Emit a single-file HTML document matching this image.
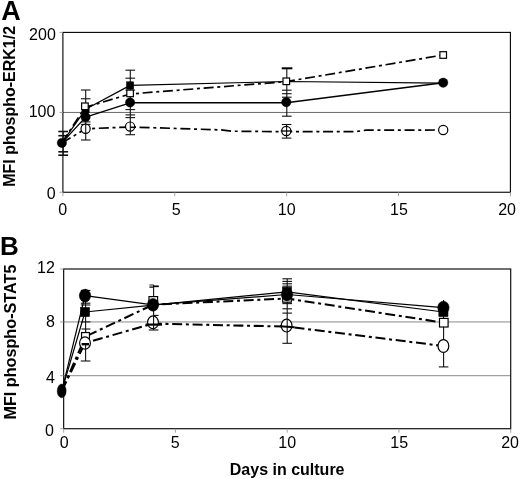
<!DOCTYPE html>
<html><head><meta charset="utf-8"><title>Figure</title>
<style>
html,body{margin:0;padding:0;background:#fff;}
body{width:520px;height:479px;overflow:hidden;font-family:"Liberation Sans",sans-serif;}
svg{display:block;will-change:transform;}
</style></head><body>
<svg width="520" height="479" viewBox="0 0 520 479">
<rect width="520" height="479" fill="#fff"/>
<line x1="62.9" y1="112.45" x2="510.4" y2="112.45" stroke="#6a6a6a" stroke-width="1" />
<rect x="62.9" y="32.4" width="447.5" height="159.85" fill="none" stroke="#000" stroke-width="1.1"/>
<line x1="62.9" y1="192.25" x2="62.9" y2="196.25" stroke="#9a9a9a" stroke-width="0.9" />
<line x1="174.78" y1="192.25" x2="174.78" y2="196.25" stroke="#9a9a9a" stroke-width="0.9" />
<line x1="286.65" y1="192.25" x2="286.65" y2="196.25" stroke="#9a9a9a" stroke-width="0.9" />
<line x1="398.52" y1="192.25" x2="398.52" y2="196.25" stroke="#9a9a9a" stroke-width="0.9" />
<line x1="510.4" y1="192.25" x2="510.4" y2="196.25" stroke="#9a9a9a" stroke-width="0.9" />
<line x1="59.4" y1="32.4" x2="62.9" y2="32.4" stroke="#9a9a9a" stroke-width="0.9" />
<line x1="59.4" y1="112.45" x2="62.9" y2="112.45" stroke="#9a9a9a" stroke-width="0.9" />
<line x1="59.4" y1="192.25" x2="62.9" y2="192.25" stroke="#9a9a9a" stroke-width="0.9" />
<line x1="63.2" y1="131.5" x2="63.2" y2="155.2" stroke="#111" stroke-width="1.1" />
<line x1="58.300000000000004" y1="131.5" x2="68.10000000000001" y2="131.5" stroke="#111" stroke-width="1.6" />
<line x1="58.300000000000004" y1="135.7" x2="68.10000000000001" y2="135.7" stroke="#111" stroke-width="1.6" />
<line x1="58.300000000000004" y1="151.8" x2="68.10000000000001" y2="151.8" stroke="#111" stroke-width="1.6" />
<line x1="58.300000000000004" y1="155.2" x2="68.10000000000001" y2="155.2" stroke="#111" stroke-width="1.6" />
<line x1="85.7" y1="90" x2="85.7" y2="140" stroke="#111" stroke-width="1.1" />
<line x1="80.9" y1="90" x2="90.5" y2="90" stroke="#111" stroke-width="1.1" />
<line x1="80.9" y1="98.75" x2="90.5" y2="98.75" stroke="#111" stroke-width="1.1" />
<line x1="80.9" y1="121.9" x2="90.5" y2="121.9" stroke="#111" stroke-width="1.1" />
<line x1="80.9" y1="124.4" x2="90.5" y2="124.4" stroke="#111" stroke-width="1.1" />
<line x1="80.9" y1="140" x2="90.5" y2="140" stroke="#111" stroke-width="1.1" />
<line x1="130.3" y1="70.2" x2="130.3" y2="134.7" stroke="#111" stroke-width="1.1" />
<line x1="125.50000000000001" y1="70.2" x2="135.10000000000002" y2="70.2" stroke="#111" stroke-width="1.1" />
<line x1="125.50000000000001" y1="78.2" x2="135.10000000000002" y2="78.2" stroke="#111" stroke-width="1.1" />
<line x1="125.50000000000001" y1="90.1" x2="135.10000000000002" y2="90.1" stroke="#111" stroke-width="1.1" />
<line x1="125.50000000000001" y1="109.6" x2="135.10000000000002" y2="109.6" stroke="#111" stroke-width="1.1" />
<line x1="125.50000000000001" y1="114.9" x2="135.10000000000002" y2="114.9" stroke="#111" stroke-width="1.1" />
<line x1="125.50000000000001" y1="117.6" x2="135.10000000000002" y2="117.6" stroke="#111" stroke-width="1.1" />
<line x1="125.50000000000001" y1="134.7" x2="135.10000000000002" y2="134.7" stroke="#111" stroke-width="1.1" />
<line x1="286.8" y1="68.4" x2="286.8" y2="116.2" stroke="#111" stroke-width="1.1" />
<line x1="282.0" y1="90.2" x2="291.6" y2="90.2" stroke="#111" stroke-width="1.1" />
<line x1="282.0" y1="93.7" x2="291.6" y2="93.7" stroke="#111" stroke-width="1.1" />
<line x1="282.0" y1="97.2" x2="291.6" y2="97.2" stroke="#111" stroke-width="1.1" />
<line x1="282.0" y1="116.2" x2="291.6" y2="116.2" stroke="#111" stroke-width="1.1" />
<line x1="281.7" y1="68.3" x2="292.4" y2="68.3" stroke="#000" stroke-width="2" />
<line x1="286.6" y1="124.5" x2="286.6" y2="138.1" stroke="#111" stroke-width="1.1" />
<line x1="281.8" y1="124.5" x2="291.40000000000003" y2="124.5" stroke="#111" stroke-width="1.1" />
<line x1="281.8" y1="138.1" x2="291.40000000000003" y2="138.1" stroke="#111" stroke-width="1.1" />
<polyline points="61.9,142.9 85.6,128.8 130.1,127.0 221,129.9 232,131.2 286.3,131.7 355,131.7 366,130.2 443.2,130" fill="none" stroke="#000" stroke-width="1.7" stroke-dasharray="10 3.7 3 3.7" stroke-linejoin="round"/>
<polyline points="61.9,142.9 84.9,107.4 130.1,94.0 286.3,81.6 443.2,55" fill="none" stroke="#000" stroke-width="1.7" stroke-dasharray="10 3.7 3 3.7" stroke-linejoin="round"/>
<polyline points="61.9,142.9 85.6,109.3 130.1,85.4 286.3,81.5 443.2,83.1" fill="none" stroke="#000" stroke-width="1.2" stroke-linejoin="round"/>
<polyline points="61.9,142.9 85.6,117.1 130.1,102.8 286.3,102.7 443.2,82.7" fill="none" stroke="#000" stroke-width="1.4" stroke-linejoin="round"/>
<circle cx="85.6" cy="128.8" r="4.6" fill="#fff" stroke="#000" stroke-width="1.2"/>
<circle cx="130.1" cy="126.6" r="4.6" fill="#fff" stroke="#000" stroke-width="1.2"/>
<circle cx="286.3" cy="131" r="4.6" fill="#fff" stroke="#000" stroke-width="1.2"/>
<circle cx="443.2" cy="130" r="4.6" fill="#fff" stroke="#000" stroke-width="1.2"/>
<line x1="85.7" y1="124.20000000000002" x2="85.7" y2="133.4" stroke="#111" stroke-width="1.1" />
<line x1="130.3" y1="122.0" x2="130.3" y2="131.2" stroke="#111" stroke-width="1.1" />
<line x1="286.6" y1="126.4" x2="286.6" y2="135.6" stroke="#111" stroke-width="1.1" />
<line x1="130.3" y1="127.3" x2="136" y2="127.3" stroke="#000" stroke-width="1.5" />
<line x1="280.8" y1="131" x2="291.8" y2="131" stroke="#000" stroke-width="1.3" />
<rect x="82.0" y="105.7" width="7.2" height="7.2" fill="#000" stroke="#000" stroke-width="0.5"/>
<rect x="126.5" y="81.80000000000001" width="7.2" height="7.2" fill="#000" stroke="#000" stroke-width="0.5"/>
<circle cx="61.9" cy="142.9" r="4.75" fill="#000" stroke="#000" stroke-width="0.3"/>
<circle cx="85.6" cy="117.1" r="4.75" fill="#000" stroke="#000" stroke-width="0.3"/>
<circle cx="130.1" cy="102.5" r="4.75" fill="#000" stroke="#000" stroke-width="0.3"/>
<circle cx="286.3" cy="102.2" r="4.75" fill="#000" stroke="#000" stroke-width="0.3"/>
<circle cx="443.2" cy="82.7" r="4.75" fill="#000" stroke="#000" stroke-width="0.3"/>
<rect x="81.60000000000001" y="103.0" width="6.6" height="6.6" fill="#fff" stroke="#000" stroke-width="1.2"/>
<rect x="126.8" y="90.10000000000001" width="6.6" height="6.6" fill="#fff" stroke="#000" stroke-width="1.2"/>
<rect x="283.0" y="78.0" width="6.6" height="6.6" fill="#fff" stroke="#000" stroke-width="1.2"/>
<rect x="439.9" y="51.7" width="6.6" height="6.6" fill="#fff" stroke="#000" stroke-width="1.2"/>
<line x1="63.65" y1="321.95" x2="510.7" y2="321.95" stroke="#8a8a8a" stroke-width="1" />
<line x1="63.65" y1="375.7" x2="510.7" y2="375.7" stroke="#8a8a8a" stroke-width="1" />
<rect x="63.65" y="269.0" width="447.05" height="159.7" fill="none" stroke="#111" stroke-width="1.2"/>
<line x1="63.65" y1="428.7" x2="63.65" y2="432.7" stroke="#9a9a9a" stroke-width="0.9" />
<line x1="175.41" y1="428.7" x2="175.41" y2="432.7" stroke="#9a9a9a" stroke-width="0.9" />
<line x1="287.17" y1="428.7" x2="287.17" y2="432.7" stroke="#9a9a9a" stroke-width="0.9" />
<line x1="398.94" y1="428.7" x2="398.94" y2="432.7" stroke="#9a9a9a" stroke-width="0.9" />
<line x1="510.7" y1="428.7" x2="510.7" y2="432.7" stroke="#9a9a9a" stroke-width="0.9" />
<line x1="60.15" y1="269.0" x2="63.65" y2="269.0" stroke="#9a9a9a" stroke-width="0.9" />
<line x1="60.15" y1="321.95" x2="63.65" y2="321.95" stroke="#9a9a9a" stroke-width="0.9" />
<line x1="60.15" y1="375.7" x2="63.65" y2="375.7" stroke="#9a9a9a" stroke-width="0.9" />
<line x1="60.15" y1="428.7" x2="63.65" y2="428.7" stroke="#9a9a9a" stroke-width="0.9" />
<line x1="85.6" y1="289" x2="85.6" y2="361" stroke="#111" stroke-width="1.1" />
<line x1="80.8" y1="290.4" x2="90.39999999999999" y2="290.4" stroke="#111" stroke-width="1.1" />
<line x1="80.8" y1="303.2" x2="90.39999999999999" y2="303.2" stroke="#111" stroke-width="1.1" />
<line x1="80.8" y1="305" x2="90.39999999999999" y2="305" stroke="#111" stroke-width="1.1" />
<line x1="80.8" y1="321.9" x2="90.39999999999999" y2="321.9" stroke="#111" stroke-width="1.1" />
<line x1="80.8" y1="361" x2="90.39999999999999" y2="361" stroke="#111" stroke-width="1.1" />
<line x1="153.6" y1="285" x2="153.6" y2="330" stroke="#111" stroke-width="1.1" />
<line x1="148.79999999999998" y1="330" x2="158.4" y2="330" stroke="#111" stroke-width="1.1" />
<line x1="149.4" y1="284.9" x2="153.8" y2="284.9" stroke="#111" stroke-width="0.8" />
<line x1="149.4" y1="286.2" x2="153.8" y2="286.2" stroke="#111" stroke-width="0.8" />
<line x1="149.4" y1="287.5" x2="153.8" y2="287.5" stroke="#111" stroke-width="0.8" />
<line x1="153.4" y1="286.3" x2="158.8" y2="286.3" stroke="#000" stroke-width="1.7" />
<line x1="153.6" y1="315.4" x2="158.6" y2="315.4" stroke="#111" stroke-width="1.1" />
<line x1="287.2" y1="278.8" x2="287.2" y2="343.3" stroke="#111" stroke-width="1.1" />
<line x1="282.4" y1="278.8" x2="292.0" y2="278.8" stroke="#111" stroke-width="1.1" />
<line x1="282.4" y1="281.4" x2="292.0" y2="281.4" stroke="#111" stroke-width="1.1" />
<line x1="282.4" y1="283.8" x2="292.0" y2="283.8" stroke="#111" stroke-width="1.1" />
<line x1="282.4" y1="286.2" x2="292.0" y2="286.2" stroke="#111" stroke-width="1.1" />
<line x1="282.4" y1="303.6" x2="292.0" y2="303.6" stroke="#111" stroke-width="1.1" />
<line x1="282.4" y1="308.8" x2="292.0" y2="308.8" stroke="#111" stroke-width="1.1" />
<line x1="282.4" y1="313.1" x2="292.0" y2="313.1" stroke="#111" stroke-width="1.1" />
<line x1="282.4" y1="343.3" x2="292.0" y2="343.3" stroke="#111" stroke-width="1.1" />
<line x1="443.6" y1="300" x2="443.6" y2="366.9" stroke="#111" stroke-width="1.1" />
<line x1="438.8" y1="366.9" x2="448.40000000000003" y2="366.9" stroke="#111" stroke-width="1.1" />
<polyline points="61.9,390.6 85.5,336.5 153.3,304.6 287.0,298.5 443.8,322.7" fill="none" stroke="#000" stroke-width="2.05" stroke-dasharray="10 3.7 3 3.7" stroke-linejoin="round"/>
<polyline points="61.9,390.6 85.0,343 153.0,323.6 286.6,326.6 443.4,346" fill="none" stroke="#000" stroke-width="2.05" stroke-dasharray="10 3.7 3 3.7" stroke-linejoin="round"/>
<polyline points="61.9,390.6 85.0,312 153.0,305.2 287.0,291.8 443.4,312" fill="none" stroke="#000" stroke-width="1.2" stroke-linejoin="round"/>
<polyline points="61.9,390.6 85.0,295.6 153.0,304.8 287.0,294.5 443.4,307.6" fill="none" stroke="#000" stroke-width="1.2" stroke-linejoin="round"/>
<rect x="81.55" y="332.55" width="7.9" height="7.9" fill="#fff" stroke="#000" stroke-width="1.2"/>
<line x1="85.6" y1="329" x2="85.6" y2="332.6" stroke="#111" stroke-width="1.1" />
<line x1="81.4" y1="329" x2="90.4" y2="329" stroke="#111" stroke-width="1.1" />
<ellipse cx="85.0" cy="343" rx="5.4" ry="6.2" fill="#fff" stroke="#000" stroke-width="1.2"/>
<line x1="85.6" y1="344" x2="85.6" y2="349.2" stroke="#111" stroke-width="1.1" />
<line x1="81.6" y1="344.2" x2="89" y2="344.2" stroke="#000" stroke-width="2.4" />
<ellipse cx="153.0" cy="322.3" rx="5.4" ry="6.4" fill="#fff" stroke="#000" stroke-width="1.2"/>
<ellipse cx="286.6" cy="325.6" rx="5.4" ry="6.4" fill="#fff" stroke="#000" stroke-width="1.2"/>
<ellipse cx="443.4" cy="346" rx="5.4" ry="6.4" fill="#fff" stroke="#000" stroke-width="1.2"/>
<line x1="153.6" y1="315.90000000000003" x2="153.6" y2="328.7" stroke="#111" stroke-width="1.1" />
<line x1="287.2" y1="319.20000000000005" x2="287.2" y2="332.0" stroke="#111" stroke-width="1.1" />
<line x1="145.7" y1="324.6" x2="162" y2="324.6" stroke="#000" stroke-width="2.2" />
<line x1="280" y1="326.3" x2="294.5" y2="327.3" stroke="#000" stroke-width="2.0" />
<rect x="149.0" y="296.59999999999997" width="8.6" height="8.6" fill="#fff" stroke="#000" stroke-width="1.2"/>
<rect x="282.7" y="293.59999999999997" width="8.6" height="8.6" fill="#fff" stroke="#000" stroke-width="1.2"/>
<rect x="439.5" y="318.4" width="8.6" height="8.6" fill="#fff" stroke="#000" stroke-width="1.2"/>
<rect x="80.4" y="307.4" width="9.2" height="9.2" fill="#000" stroke="#000" stroke-width="0.5"/>
<rect x="149.0" y="301.2" width="8.0" height="8.0" fill="#000" stroke="#000" stroke-width="0.5"/>
<rect x="282.4" y="287.2" width="9.2" height="9.2" fill="#000" stroke="#000" stroke-width="0.5"/>
<rect x="438.79999999999995" y="307.4" width="9.2" height="9.2" fill="#000" stroke="#000" stroke-width="0.5"/>
<ellipse cx="85.0" cy="295.6" rx="5.7" ry="6.4" fill="#000" stroke="#000" stroke-width="0.5"/>
<ellipse cx="153.0" cy="304.8" rx="5.7" ry="6.4" fill="#000" stroke="#000" stroke-width="0.5"/>
<ellipse cx="287.0" cy="294.5" rx="5.7" ry="6.4" fill="#000" stroke="#000" stroke-width="0.5"/>
<ellipse cx="443.4" cy="307.6" rx="5.7" ry="6.4" fill="#000" stroke="#000" stroke-width="0.5"/>
<ellipse cx="61.7" cy="390.9" rx="4.5" ry="6.9" fill="#000" stroke="#000" stroke-width="0.4"/>
<text x="1.3" y="19.6" font-family="Liberation Sans, sans-serif" font-size="27" font-weight="bold" text-anchor="start" fill="#000" >A</text>
<text x="-0.1" y="255.4" font-family="Liberation Sans, sans-serif" font-size="26" font-weight="bold" text-anchor="start" fill="#000" >B</text>
<text x="55.8" y="39.6" font-family="Liberation Sans, sans-serif" font-size="16" font-weight="normal" text-anchor="end" fill="#000" >200</text>
<text x="55.4" y="116.7" font-family="Liberation Sans, sans-serif" font-size="16" font-weight="normal" text-anchor="end" fill="#000" >100</text>
<text x="55.7" y="199" font-family="Liberation Sans, sans-serif" font-size="16" font-weight="normal" text-anchor="end" fill="#000" >0</text>
<text x="54.8" y="272.9" font-family="Liberation Sans, sans-serif" font-size="16" font-weight="normal" text-anchor="end" fill="#000" >12</text>
<text x="55" y="327.2" font-family="Liberation Sans, sans-serif" font-size="16" font-weight="normal" text-anchor="end" fill="#000" >8</text>
<text x="55" y="383" font-family="Liberation Sans, sans-serif" font-size="16" font-weight="normal" text-anchor="end" fill="#000" >4</text>
<text x="54.0" y="436" font-family="Liberation Sans, sans-serif" font-size="16" font-weight="normal" text-anchor="end" fill="#000" >0</text>
<text x="62.699999999999996" y="215.3" font-family="Liberation Sans, sans-serif" font-size="16" font-weight="normal" text-anchor="middle" fill="#000" >0</text>
<text x="176.28" y="215.3" font-family="Liberation Sans, sans-serif" font-size="16" font-weight="normal" text-anchor="middle" fill="#000" >5</text>
<text x="286.65" y="215.3" font-family="Liberation Sans, sans-serif" font-size="16" font-weight="normal" text-anchor="middle" fill="#000" >10</text>
<text x="399.02" y="215.3" font-family="Liberation Sans, sans-serif" font-size="16" font-weight="normal" text-anchor="middle" fill="#000" >15</text>
<text x="507.09999999999997" y="215.3" font-family="Liberation Sans, sans-serif" font-size="16" font-weight="normal" text-anchor="middle" fill="#000" >20</text>
<text x="64.15" y="448.2" font-family="Liberation Sans, sans-serif" font-size="16" font-weight="normal" text-anchor="middle" fill="#000" >0</text>
<text x="175.21" y="448.2" font-family="Liberation Sans, sans-serif" font-size="16" font-weight="normal" text-anchor="middle" fill="#000" >5</text>
<text x="287.17" y="448.2" font-family="Liberation Sans, sans-serif" font-size="16" font-weight="normal" text-anchor="middle" fill="#000" >10</text>
<text x="399.24" y="448.2" font-family="Liberation Sans, sans-serif" font-size="16" font-weight="normal" text-anchor="middle" fill="#000" >15</text>
<text x="510.09999999999997" y="448.2" font-family="Liberation Sans, sans-serif" font-size="16" font-weight="normal" text-anchor="middle" fill="#000" >20</text>
<text x="287.15" y="474.8" font-family="Liberation Sans, sans-serif" font-size="16" font-weight="bold" text-anchor="middle" fill="#000" >Days in culture</text>
<text transform="translate(14.6,106.35) rotate(-90)" font-family="Liberation Sans, sans-serif" font-size="16" font-weight="bold" text-anchor="middle" fill="#000">MFI phospho-ERK1/2</text>
<text transform="translate(15.8,342.1) rotate(-90)" font-family="Liberation Sans, sans-serif" font-size="16.2" font-weight="bold" text-anchor="middle" fill="#000">MFI phospho-STAT5</text>
</svg>
</body></html>
